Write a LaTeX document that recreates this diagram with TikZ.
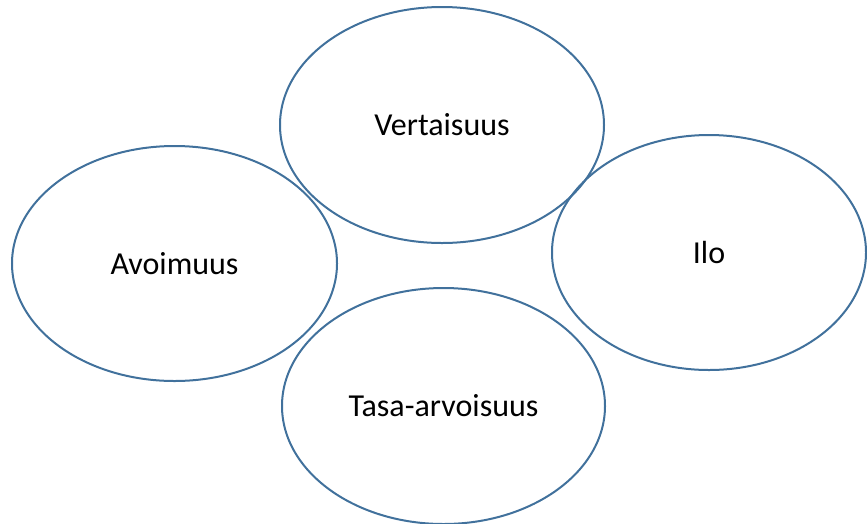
\documentclass[tikz,border=0pt]{standalone}
\usepackage{fontspec}
\setmainfont{Carlito}
\usetikzlibrary{shapes.geometric}
\definecolor{ringblue}{HTML}{41719C}
\begin{document}
\begin{tikzpicture}[x=1pt,y=-1pt]
        \useasboundingbox (0,0) rectangle (867,523);

        \begin{scope}[every node/.style={ellipse, draw=ringblue, line width=2pt,
            inner sep=0pt, font=\fontsize{32}{38}\selectfont}]
          \node[minimum width=324, minimum height=236] (vert) at (442,125)   {Vertaisuus};
          \node[minimum width=325, minimum height=235] (avoi) at (174.5,263.5) {Avoimuus};
          \node[minimum width=314, minimum height=235] (ilo)  at (709,252.5) {Ilo};
          \node[minimum width=323, minimum height=236] (tasa) at (443.5,406) {Tasa-arvoisuus};
        \end{scope}

      \end{tikzpicture}
\end{document}
